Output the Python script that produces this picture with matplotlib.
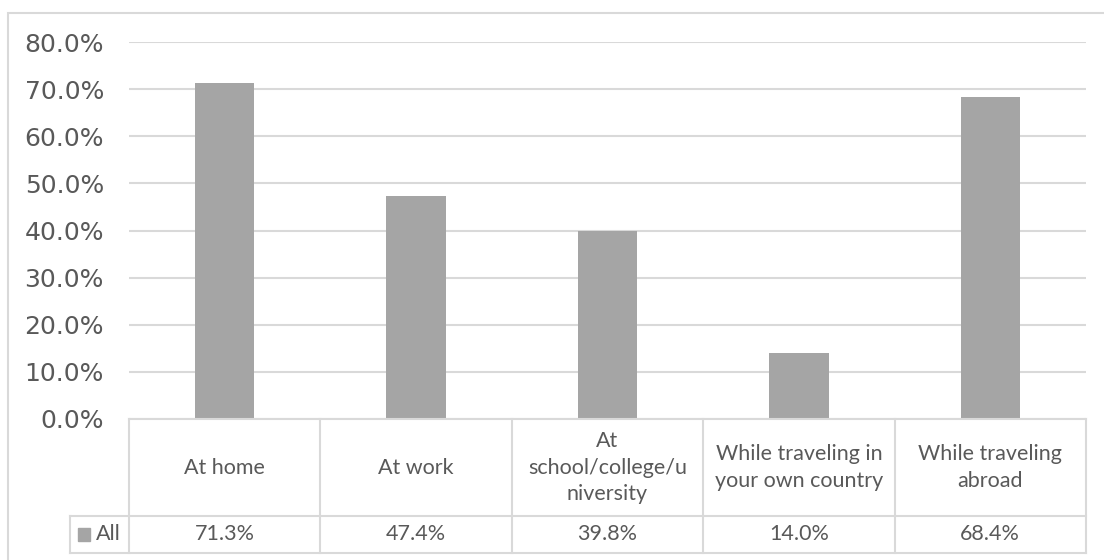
import matplotlib
matplotlib.use("Agg")
import matplotlib.pyplot as plt
from matplotlib.patches import Rectangle

categories = ["At home", "At work", "At\nschool/college/u\nniversity",
              "While traveling in\nyour own country", "While traveling\nabroad"]
values = [71.3, 47.4, 39.8, 14.0, 68.4]
value_labels = ["71.3%", "47.4%", "39.8%", "14.0%", "68.4%"]
series_name = "All"
yticks = [0, 10, 20, 30, 40, 50, 60, 70, 80]

W, H = 1104, 560
fig = plt.figure(figsize=(W / 100, H / 100), dpi=100)
fig.patch.set_facecolor("white")

grid_c = "#d9d9d9"
text_c = "#595959"
bar_c = "#a5a5a5"

# axes in pixel positions
left, right, top, bottom = 129, 1086, 42, 419
ax = fig.add_axes([left / W, (H - bottom) / H, (right - left) / W, (bottom - top) / H])
n = len(values)
x = list(range(n))
ax.bar(x, values, width=0.31, color=bar_c, zorder=3)
ax.set_xlim(-0.5, n - 0.5)
ax.set_ylim(0, 80)
ax.set_yticks(yticks)
ax.set_yticklabels([f"{v:.1f}%" for v in yticks], fontsize=18, color=text_c,
                   family="DejaVu Sans")
ax.tick_params(axis="y", length=0, pad=18)
ax.set_xticks([])
for s in ax.spines.values():
    s.set_visible(False)
ax.yaxis.grid(True, color=grid_c, linewidth=1.5, zorder=0)
ax.set_axisbelow(True)

# data table
tr = ax.get_xaxis_transform()
h_top = 0.0
h_mid = (bottom - 516) / (bottom - top)
h_bot = (bottom - 553) / (bottom - top)
px_per_unit = (right - left) / n
x_leg = -0.5 - (left - 70) / px_per_unit
lkw = dict(color=grid_c, linewidth=1.5, transform=tr, clip_on=False, zorder=4)
ax.plot([-0.5, n - 0.5], [h_top, h_top], **lkw)
ax.plot([x_leg, n - 0.5], [h_mid, h_mid], **lkw)
ax.plot([x_leg, n - 0.5], [h_bot, h_bot], **lkw)
for k in range(n + 1):
    ax.plot([k - 0.5, k - 0.5], [h_top, h_bot], **lkw)
ax.plot([x_leg, x_leg], [h_mid, h_bot], **lkw)

tfont = "Lato"
tsize = 15.5
for i, (c, v) in enumerate(zip(categories, value_labels)):
    ax.text(i, (h_top + h_mid) / 2, c, transform=tr, ha="center", va="center",
            fontsize=tsize, color=text_c, family=tfont, linespacing=1.38)
    ax.text(i, (h_mid + h_bot) / 2, v, transform=tr, ha="center", va="center",
            fontsize=tsize, color=text_c, family=tfont)

# legend key in table
ymid = (h_mid + h_bot) / 2
key_w = 12 / px_per_unit
x_key = -0.5 - (left - 78) / px_per_unit
kh = 13 / (bottom - top)
ax.add_patch(Rectangle((x_key, ymid - kh / 2), key_w, kh, transform=tr,
                       color=bar_c, clip_on=False, zorder=5))
ax.text(-0.5 - (left - 96) / px_per_unit, ymid, series_name, transform=tr,
        ha="left", va="center", fontsize=tsize, color=text_c, family=tfont)

# outer chart border (cut off at right and bottom)
fig.patches.append(Rectangle((8 / W, -0.05), 1.1, (H - 13) / H + 0.05,
                             transform=fig.transFigure, fill=False,
                             edgecolor=grid_c, linewidth=1.5))

fig.savefig("out.png", dpi=100, facecolor="white")
